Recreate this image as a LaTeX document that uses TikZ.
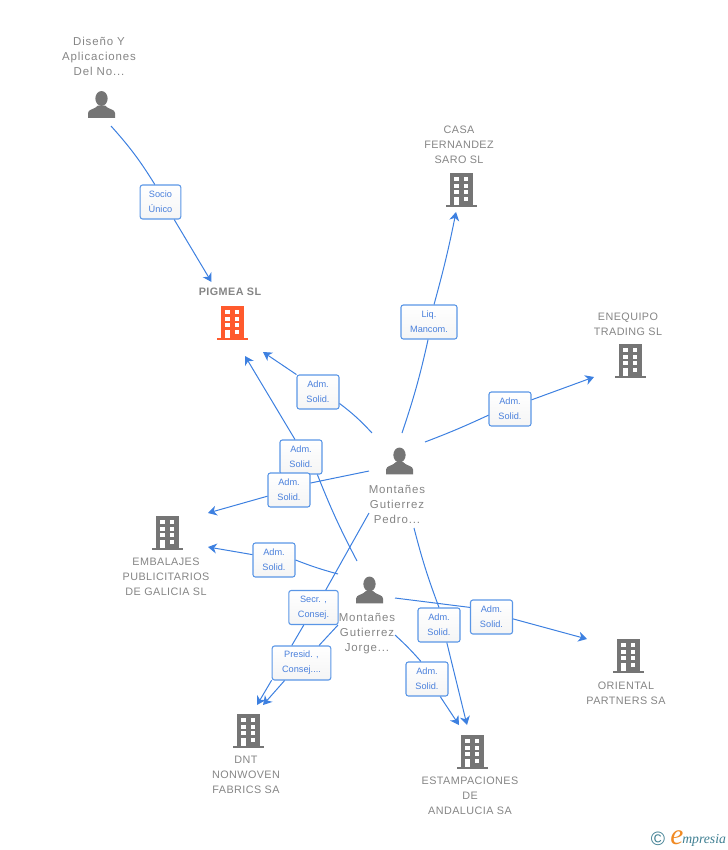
\documentclass[tikz,border=0pt]{standalone}
\usepackage{fontspec}
\usetikzlibrary{arrows.meta}
\newfontfamily\graphfont[LetterSpace=4]{Liberation Sans}
\newfontfamily\personfont[LetterSpace=7.5]{Liberation Sans}
\newfontfamily\boxfont{Liberation Sans}
\definecolor{linkblue}{HTML}{3D80E0}
\definecolor{boxblue}{HTML}{5A96E6}
\definecolor{boxtext}{HTML}{4A80DC}
\definecolor{labelgray}{HTML}{858585}
\definecolor{icongray}{HTML}{757575}
\definecolor{iconorange}{HTML}{FF5A2D}
\definecolor{logoteal}{HTML}{3F7F92}
\definecolor{logoorange}{HTML}{F08A24}
\tikzset{
  link/.style={linkblue,line width=.75pt},
  linkto/.style={link,-{Stealth[length=6.5pt,width=7.5pt,inset=2pt]}},
  rolebox/.style={draw=boxblue,line width=.8pt,rounded corners=1.8pt,top color=white,bottom color=black!4,
    minimum height=25.5pt,inner sep=0pt,align=center,text=boxtext,
    execute at begin node={\rule{0pt}{6.5pt}},
    font=\boxfont\fontsize{6.9}{11.25}\selectfont},
  graphlabel/.style={text=labelgray,align=center,font=\graphfont\fontsize{8.1}{11.25}\selectfont},
  personlabel/.style={graphlabel,font=\personfont\fontsize{8.6}{11.25}\selectfont},
  person/.pic={
    \fill[icongray] (0,-6) ellipse [x radius=4.6pt,y radius=5.6pt];
    \fill[icongray] (-13.5,13.3) -- (-13.5,8.5) .. controls (-13.5,4.5) and (-6.5,5) .. (-3.5,1) -- (3.5,1)
      .. controls (6.5,5) and (13.5,4.5) .. (13.5,8.5) -- (13.5,13.3) -- cycle;
  },
  building/.pic={
    \fill[#1] (-11.5,-17) rectangle (11.5,15);
    \fill[#1] (-15.5,14.7) rectangle (15.5,17.3);
    \foreach \rowy in {-13,-6.5,0} {
      \fill[white] (-7,\rowy) rectangle (-2.5,\rowy+4.2);
      \fill[white] (2.7,\rowy) rectangle (7.2,\rowy+4.2);
    }
    \fill[white] (-7,6.5) rectangle (-2.5,14.7);
    \fill[white] (2.7,6.5) rectangle (7.2,10.7);
  }
}
\begin{document}
\begin{tikzpicture}[x=.75pt,y=-.75pt]
        \useasboundingbox (0,0) rectangle (728,850);

        % icons
        \pic at (101.5,104.5) {person};
        \pic at (399.5,461) {person};
        \pic at (369.5,590) {person};
        \pic at (232,323) {building=iconorange};
        \pic at (461,190) {building=icongray};
        \pic at (630,361) {building=icongray};
        \pic at (167,533) {building=icongray};
        \pic at (628,656) {building=icongray};
        \pic at (248,731) {building=icongray};
        \pic at (472,752) {building=icongray};

        % labels
        \node[personlabel] (disenoText) at (99,56.5) {Diseño Y\\Aplicaciones\\Del No...};
        \node[graphlabel,font=\graphfont\bfseries\fontsize{8.1}{11.25}\selectfont] (pigmeaText) at (230,292) {PIGMEA SL};
        \node[graphlabel] (casaText) at (459,144.7) {CASA\\FERNANDEZ\\SARO SL};
        \node[graphlabel] (enequipoText) at (628,324.2) {ENEQUIPO\\TRADING SL};
        \node[personlabel] (pedroText) at (397,504.7) {Montañes\\Gutierrez\\Pedro...};
        \node[personlabel] (jorgeText) at (367,633.7) {Montañes\\Gutierrez\\Jorge...};
        \node[graphlabel] (embalajesText) at (166,577) {EMBALAJES\\PUBLICITARIOS\\DE GALICIA SL};
        \node[graphlabel] (orientalText) at (626,693.5) {ORIENTAL\\PARTNERS SA};
        \node[graphlabel] (dntText) at (246,775) {DNT\\NONWOVEN\\FABRICS SA};
        \node[graphlabel] (estampText) at (470,796) {ESTAMPACIONES\\DE\\ANDALUCIA SA};

        % role boxes
        \node[rolebox,minimum width=30.5pt] (socioBox) at (160.5,202) {Socio\\Único};
        \node[rolebox,minimum width=31.5pt] (pedroPigmea) at (318,392) {Adm.\\Solid.};
        \node[rolebox,minimum width=42pt] (liqBox) at (429,322) {Liq.\\Mancom.};
        \node[rolebox,minimum width=31.5pt] (pedroEnequipo) at (510,409) {Adm.\\Solid.};
        \node[rolebox,minimum width=31.5pt] (jorgePigmea) at (301,457) {Adm.\\Solid.};
        \node[rolebox,minimum width=31.5pt] (pedroEmbalajes) at (289,490) {Adm.\\Solid.};
        \node[rolebox,minimum width=31.5pt] (jorgeEmbalajes) at (274,560) {Adm.\\Solid.};
        \node[rolebox,minimum width=37pt] (secrBox) at (313.5,607.5) {Secr. ,\\Consej.};
        \node[rolebox,minimum width=44pt] (presidBox) at (301.5,663) {Presid. ,\\Consej....};
        \node[rolebox,minimum width=31.5pt] (pedroEstamp) at (439,625) {Adm.\\Solid.};
        \node[rolebox,minimum width=31.5pt] (jorgeOriental) at (491.5,617) {Adm.\\Solid.};
        \node[rolebox,minimum width=31.5pt] (jorgeEstamp) at (427,679) {Adm.\\Solid.};

        % free ends
        \coordinate (disenoOut) at (111,126);
        \coordinate (pigmeaIn) at (211.5,282);
        \coordinate (pigmeaInA) at (263,352);
        \coordinate (pigmeaInB) at (245,356);
        \coordinate (casaIn) at (456,212);
        \coordinate (enequipoIn) at (594,377);
        \coordinate (embalajesInA) at (208,513);
        \coordinate (embalajesInB) at (208,547);
        \coordinate (orientalIn) at (587,639);
        \coordinate (dntInA) at (257,705);
        \coordinate (dntInB) at (263,705);
        \coordinate (estampInA) at (467,725);
        \coordinate (estampInB) at (459,725);
        \coordinate (pedroOutA) at (372,433);
        \coordinate (pedroOutB) at (402,433);
        \coordinate (pedroOutC) at (425,442);
        \coordinate (pedroOutD) at (369,471);
        \coordinate (pedroOutE) at (369,513);
        \coordinate (pedroOutF) at (414,528);
        \coordinate (jorgeOutA) at (357,561);
        \coordinate (jorgeOutB) at (338,574);
        \coordinate (jorgeOutC) at (338,625);
        \coordinate (jorgeOutD) at (395,598);
        \coordinate (jorgeOutE) at (395,635);

        % connectors
        \draw[link] (disenoOut) to[bend left=5] (socioBox.108);
        \draw[linkto] (socioBox.308) -- (pigmeaIn);
        \draw[link] (pedroOutA) to[bend right=5] (pedroPigmea.332);
        \draw[linkto] (pedroPigmea.141) -- (pigmeaInA);
        \draw[link] (pedroOutB) to[bend right=3] (liqBox.267);
        \draw[linkto] (liqBox.74) to[bend right=2] (casaIn);
        \draw[link] (pedroOutC) to[bend right=2] (pedroEnequipo.196);
        \draw[linkto] (pedroEnequipo.23) -- (enequipoIn);
        \draw[link] (pedroOutD) -- (pedroEmbalajes.18);
        \draw[linkto] (pedroEmbalajes.196) -- (embalajesInA);
        \draw[link] (pedroOutE) -- (secrBox.55);
        \draw[link] (secrBox.241) -- (presidBox.119);
        \draw[linkto] (presidBox.210) -- (dntInA);
        \draw[link] (pedroOutF) to[bend right=3] (pedroEstamp.90);
        \draw[linkto] (pedroEstamp.294) -- (estampInA);
        \draw[link] (jorgeOutA) to[bend left=3] (jorgePigmea.313);
        \draw[linkto] (jorgePigmea.109) -- (pigmeaInB);
        \draw[link] (jorgeOutB) to[bend left=3] (jorgeEmbalajes.0);
        \draw[linkto] (jorgeEmbalajes.166) -- (embalajesInB);
        \draw[link] (jorgeOutC) -- (presidBox.45);
        \draw[linkto] (presidBox.226) -- (dntInB);
        \draw[link] (jorgeOutD) -- (jorgeOriental.156);
        \draw[linkto] (jorgeOriental.355) -- (orientalIn);
        \draw[link] (jorgeOutE) to[bend left=3] (jorgeEstamp.109);
        \draw[linkto] (jorgeEstamp.307) -- (estampInB);

        % logo
        \node[text=logoteal,inner sep=0pt,font=\boxfont\fontsize{14.5}{14.5}\selectfont] (logoCopy) at (658,838.5) {©};
        \node[text=logoorange,inner sep=0pt,anchor=base west,font={\fontspec{Liberation Serif}\itshape\fontsize{22}{22}\selectfont}] (logoE) at (670,844) {e};
        \node[text=logoteal,inner sep=0pt,anchor=base west,font={\fontspec{Liberation Serif}\itshape\fontsize{10.3}{11}\selectfont}] (logoName) at (682,843) {mpresia};
\end{tikzpicture}
\end{document}
